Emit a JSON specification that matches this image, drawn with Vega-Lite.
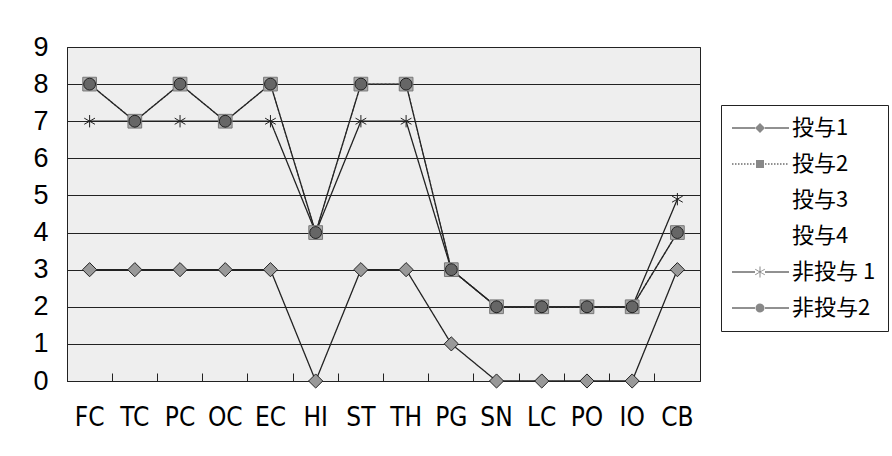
{
  "$schema": "https://vega.github.io/schema/vega-lite/v6.json",
  "width": 633,
  "height": 334,
  "autosize": "none",
  "padding": {"left": 67, "top": 47, "right": 192, "bottom": 75},
  "background": "white",
  "config": {"view": {"stroke": "#222", "strokeWidth": 1, "fill": "#eeeeee"}},
  "data": {"values": [
    {"series": "投与1", "item": "FC", "value": 3},
    {"series": "投与1", "item": "TC", "value": 3},
    {"series": "投与1", "item": "PC", "value": 3},
    {"series": "投与1", "item": "OC", "value": 3},
    {"series": "投与1", "item": "EC", "value": 3},
    {"series": "投与1", "item": "HI", "value": 0},
    {"series": "投与1", "item": "ST", "value": 3},
    {"series": "投与1", "item": "TH", "value": 3},
    {"series": "投与1", "item": "PG", "value": 1},
    {"series": "投与1", "item": "SN", "value": 0},
    {"series": "投与1", "item": "LC", "value": 0},
    {"series": "投与1", "item": "PO", "value": 0},
    {"series": "投与1", "item": "IO", "value": 0},
    {"series": "投与1", "item": "CB", "value": 3},
    {"series": "投与2", "item": "FC", "value": 8},
    {"series": "投与2", "item": "TC", "value": 7},
    {"series": "投与2", "item": "PC", "value": 8},
    {"series": "投与2", "item": "OC", "value": 7},
    {"series": "投与2", "item": "EC", "value": 8},
    {"series": "投与2", "item": "HI", "value": 4},
    {"series": "投与2", "item": "ST", "value": 8},
    {"series": "投与2", "item": "TH", "value": 8},
    {"series": "投与2", "item": "PG", "value": 3},
    {"series": "投与2", "item": "SN", "value": 2},
    {"series": "投与2", "item": "LC", "value": 2},
    {"series": "投与2", "item": "PO", "value": 2},
    {"series": "投与2", "item": "IO", "value": 2},
    {"series": "投与2", "item": "CB", "value": 4},
    {"series": "非投与 1", "item": "FC", "value": 7},
    {"series": "非投与 1", "item": "TC", "value": 7},
    {"series": "非投与 1", "item": "PC", "value": 7},
    {"series": "非投与 1", "item": "OC", "value": 7},
    {"series": "非投与 1", "item": "EC", "value": 7},
    {"series": "非投与 1", "item": "HI", "value": 4},
    {"series": "非投与 1", "item": "ST", "value": 7},
    {"series": "非投与 1", "item": "TH", "value": 7},
    {"series": "非投与 1", "item": "PG", "value": 3},
    {"series": "非投与 1", "item": "SN", "value": 2},
    {"series": "非投与 1", "item": "LC", "value": 2},
    {"series": "非投与 1", "item": "PO", "value": 2},
    {"series": "非投与 1", "item": "IO", "value": 2},
    {"series": "非投与 1", "item": "CB", "value": 4.9},
    {"series": "非投与2", "item": "FC", "value": 8},
    {"series": "非投与2", "item": "TC", "value": 7},
    {"series": "非投与2", "item": "PC", "value": 8},
    {"series": "非投与2", "item": "OC", "value": 7},
    {"series": "非投与2", "item": "EC", "value": 8},
    {"series": "非投与2", "item": "HI", "value": 4},
    {"series": "非投与2", "item": "ST", "value": 8},
    {"series": "非投与2", "item": "TH", "value": 8},
    {"series": "非投与2", "item": "PG", "value": 3},
    {"series": "非投与2", "item": "SN", "value": 2},
    {"series": "非投与2", "item": "LC", "value": 2},
    {"series": "非投与2", "item": "PO", "value": 2},
    {"series": "非投与2", "item": "IO", "value": 2},
    {"series": "非投与2", "item": "CB", "value": 4}
  ]},
  "encoding": {
    "x": {
      "field": "item",
      "type": "nominal",
      "sort": ["FC", "TC", "PC", "OC", "EC", "HI", "ST", "TH", "PG", "SN", "LC", "PO", "IO", "CB"],
      "scale": {"type": "band", "paddingInner": 0, "paddingOuter": 0},
      "bandPosition": 0.5,
      "axis": {
        "title": null,
        "labelAngle": 0,
        "labelFont": "DejaVu Sans Condensed, Liberation Sans",
        "labelFontSize": 26,
        "labelColor": "#000",
        "domainColor": "#222",
        "tickColor": "#222",
        "tickSize": -8,
        "labelPadding": 31,
        "bandPosition": 0,
        "grid": false
      }
    },
    "y": {
      "field": "value",
      "type": "quantitative",
      "scale": {"domain": [0, 9], "nice": false},
      "axis": {
        "title": null,
        "values": [0, 1, 2, 3, 4, 5, 6, 7, 8, 9],
        "grid": true,
        "gridColor": "#222",
        "gridWidth": 1,
        "ticks": false,
        "domainColor": "#222",
        "labelFont": "Liberation Sans",
        "labelFontSize": 27,
        "labelColor": "#000",
        "labelPadding": 19
      }
    }
  },
  "layer": [
    {
      "mark": {"type": "line", "strokeWidth": 1.3},
      "encoding": {
        "detail": {"field": "series"},
        "stroke": {
          "field": "series",
          "scale": {"domain": ["非投与2", "非投与 1", "投与4", "投与3", "投与2", "投与1"], "range": ["#222222", "#222222", "#ffffff", "#ffffff", "#777777", "#222222"]},
          "legend": null
        },
        "strokeDash": {
          "field": "series",
          "scale": {"domain": ["非投与2", "非投与 1", "投与4", "投与3", "投与2", "投与1"], "range": [[1, 0], [1, 0], [1, 0], [1, 0], [2, 2], [1, 0]]},
          "legend": null
        }
      }
    },
    {
      "mark": {"type": "point", "filled": true, "opacity": 1, "strokeWidth": 1},
      "encoding": {
        "shape": {
          "field": "series",
          "scale": {"domain": ["非投与2", "非投与 1", "投与4", "投与3", "投与2", "投与1"], "range": ["circle", "M0,-1V1M-0.87,-0.5L0.87,0.5M-0.87,0.5L0.87,-0.5", "M0,0", "M0,0", "square", "diamond"]},
          "legend": null
        },
        "fill": {
          "field": "series",
          "scale": {"domain": ["非投与2", "非投与 1", "投与4", "投与3", "投与2", "投与1"], "range": ["#666666", "transparent", "transparent", "transparent", "#aaaaaa", "#999999"]},
          "legend": null
        },
        "stroke": {"field": "series", "legend": null},
        "size": {
          "field": "series",
          "scale": {"domain": ["非投与2", "非投与 1", "投与4", "投与3", "投与2", "投与1"], "range": [140, 200, 10, 10, 100, 130]},
          "legend": null
        }
      }
    },
    {
      "transform": [{"filter": "datum.value < -100"}],
      "mark": {"type": "line", "stroke": "#222222", "strokeWidth": 1},
      "encoding": {
        "strokeDash": {
          "field": "series",
          "scale": {"domain": ["投与1", "投与2", "投与3", "投与4", "非投与 1", "非投与2"], "range": [[1, 0], [1.5, 1.5], [0, 1000], [0, 1000], [1, 0], [1, 0]]},
          "legend": {
            "orient": "none",
            "legendX": 654,
            "legendY": 58,
            "title": null,
            "padding": 12,
            "labelFont": "Noto Sans CJK JP",
            "labelFontSize": 22,
            "labelColor": "#000",
            "labelOpacity": 0,
            "labelOffset": 37,
            "rowPadding": 14,
            "symbolSize": 100,
            "symbolType": "M-2.4,0H2.2M4.2,0H9",
            "symbolStrokeColor": "#222222",
            "symbolStrokeWidth": 1,
            "symbolOpacity": 1
          }
        }
      }
    },
    {
      "transform": [{"filter": "datum.value < -100"}],
      "mark": {"type": "point", "filled": true, "opacity": 1, "fill": "#888888", "stroke": "#222222", "strokeWidth": 1, "size": 100},
      "encoding": {
        "shape": {
          "field": "series",
          "scale": {
            "domain": ["投与1", "投与2", "投与3", "投与4", "非投与 1", "非投与2"],
            "range": [
              "M3.2,-1L4.2,0L3.2,1L2.2,0Z",
              "M2.4,-0.8H4V0.8H2.4Z",
              "M0,0",
              "M0,0",
              "M3.1,-1.1H3.3V1.1H3.1ZM2.25,-0.63L4.15,0.47L4.15,0.63L2.25,-0.47ZM2.25,0.47L4.15,-0.63L4.15,-0.47L2.25,0.63Z",
              "M2.3,0A0.9,0.9 0 1,0 4.1,0A0.9,0.9 0 1,0 2.3,0Z"
            ]
          },
          "legend": {
            "orient": "none",
            "legendX": 654,
            "legendY": 58,
            "title": null,
            "padding": 12,
            "strokeColor": "#222",
            "labelFont": "Noto Sans CJK JP",
            "labelFontSize": 22,
            "labelColor": "#000",
            "labelOffset": 37,
            "rowPadding": 14,
            "symbolSize": 100,
            "symbolOpacity": 1,
            "symbolFillColor": "#888888",
            "symbolStrokeColor": "#222222",
            "symbolStrokeWidth": 1
          }
        }
      }
    }
  ],
  "resolve": {"scale": {"shape": "independent", "strokeDash": "independent"}}
}
